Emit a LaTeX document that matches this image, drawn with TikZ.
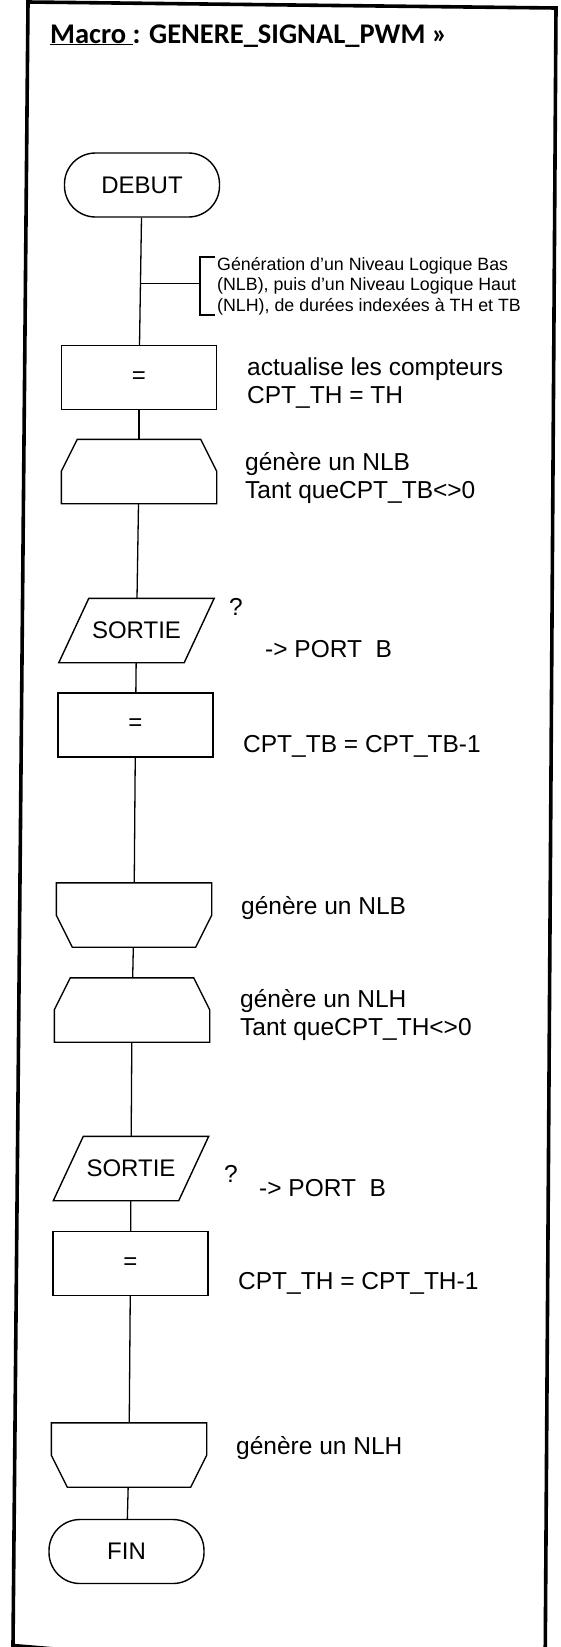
\documentclass[tikz,border=0pt]{standalone}
\usepackage{fontspec}
\setmainfont{Liberation Sans}
\newfontfamily\titlefont{Carlito}
\usetikzlibrary{calc}
\tikzset{
  shp/.style={draw=black, line width=1.4pt},
  base/.style={draw=none, minimum width=155pt, minimum height=64pt, inner sep=0pt,
    font=\fontsize{24}{28}\selectfont},
  term/.style={base, shp, rounded corners=31pt},
  procbox/.style={base, shp},
  lbl/.style={anchor=west, align=left, inner sep=0pt, font=\fontsize{24.5}{28}\selectfont},
  lblb/.style={anchor=base west, inner sep=0pt, font=\fontsize{24.5}{28}\selectfont},
  cmt/.style={anchor=west, align=left, inner sep=0pt, font=\fontsize{17.8}{20.5}\selectfont},
  conn/.style={draw=black, line width=1.3pt},
  frame/.style={draw=black, line width=3.6pt},
}
\newcommand\drawloopstart[1]{\draw[shp] ([xshift=16pt]#1.north west) -- ([xshift=-16pt]#1.north east) -- ([yshift=-32pt]#1.north east) -- (#1.south east) -- (#1.south west) -- ([yshift=-32pt]#1.north west) -- cycle;}
\newcommand\drawloopend[1]{\draw[shp] (#1.north west) -- (#1.north east) -- ([yshift=32pt]#1.south east) -- ([xshift=-16pt]#1.south east) -- ([xshift=16pt]#1.south west) -- ([yshift=32pt]#1.south west) -- cycle;}
\newcommand\drawpara[1]{\draw[shp] ([xshift=30pt]#1.north west) -- (#1.north east) -- ([xshift=-30pt]#1.south east) -- (#1.south west) -- cycle;}
\begin{document}
\begin{tikzpicture}[x=1pt,y=-1pt]
\useasboundingbox (0,0) rectangle (561,1647);
\fill[white] (0,0) rectangle (561,1647);
\begin{scope}
  \clip (0,0) rectangle (561,1647);
  \draw[frame] (28,2) -- (556,8) -- (545,1690) -- (13,1645.5) -- cycle;
\end{scope}

% title
\node[anchor=base west, inner sep=0pt, font=\titlefont\bfseries\fontsize{28.5}{32}\selectfont] (title) at (50,43) {\underline{Macro }: GENERE\_SIGNAL\_PWM »};

% flowchart nodes
\node[term] (deb) at (142,185) {DEBUT};
\node[procbox] (b1) at (139,377.5) {=};
\node[base] (ls1) at (139,471.5) {};
\node[base] (s1) at (136.5,630.5) {SORTIE};
\node[procbox] (b2) at (135.5,725) {=};
\node[base] (le1) at (134,915) {};
\node[base] (ls2) at (132,1010) {};
\node[base] (s2) at (131,1168.5) {SORTIE};
\node[procbox] (b3) at (130.5,1263.5) {=};
\node[base] (le2) at (129,1455) {};
\node[term] (fin) at (126.5,1551.5) {FIN};

\drawloopstart{ls1}
\drawpara{s1}
\drawloopend{le1}
\drawloopstart{ls2}
\drawpara{s2}
\drawloopend{le2}

% connectors
\draw[conn] (deb) -- (b1);
\draw[conn] (b1) -- (ls1);
\draw[conn] (ls1) -- (s1);
\draw[conn] (s1) -- (b2);
\draw[conn] (b2) -- (le1);
\draw[conn] (le1) -- (ls2);
\draw[conn] (ls2) -- (s2);
\draw[conn] (s2) -- (b3);
\draw[conn] (b3) -- (le2);
\draw[conn] (le2) -- (fin);

% comment with bracket
\node[cmt] (cm) at (217,286) {Génération d'un Niveau Logique Bas\\(NLB), puis d'un Niveau Logique Haut\\(NLH), de durées indexées à TH et TB};
\coordinate (br) at ($(deb.south)!0.516!(b1.north)$);
\coordinate (bk) at ([xshift=-17pt]cm.west);
\draw[conn] ([xshift=-2pt]cm.north west) -- ([xshift=-17pt]cm.north west) -- ([xshift=-17pt]cm.south west) -- ([xshift=-2pt]cm.south west);
\draw[conn] (br) -- (br -| bk);

% side labels
\node[lbl] (t1) at (247,383) {actualise les compteurs\\CPT\_TH = TH};
\node[lbl] (t2) at (245,478) {génère un NLB\\Tant queCPT\_TB<>0};
\node[lblb] (q1) at (229,615) {?};
\node[lblb] (p1) at (265,657) {-> PORT\ \ B};
\node[lblb] (t3) at (243,752) {CPT\_TB = CPT\_TB-1};
\node[lblb] (t4) at (241,914) {génère un NLB};
\node[lbl] (t5) at (240,1015.5) {génère un NLH\\Tant queCPT\_TH<>0};
\node[lblb] (q2) at (224,1182) {?};
\node[lblb] (p2) at (259,1196) {-> PORT\ \ B};
\node[lblb] (t6) at (238,1289) {CPT\_TH = CPT\_TH-1};
\node[lblb] (t7) at (236,1454) {génère un NLH};
\end{tikzpicture}
\end{document}
